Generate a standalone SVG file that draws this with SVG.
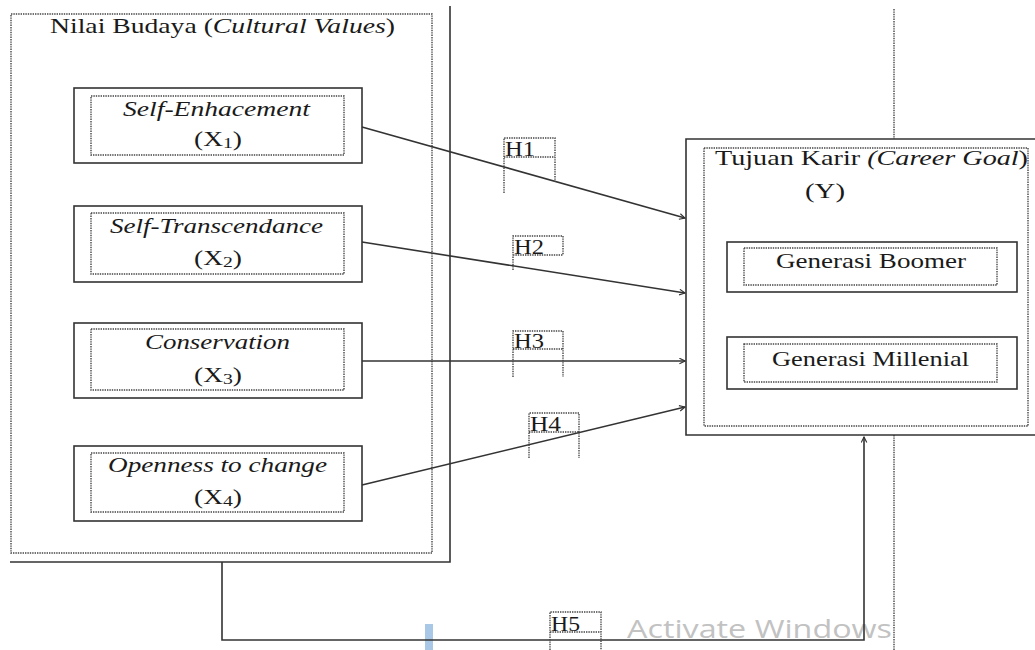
<svg xmlns="http://www.w3.org/2000/svg" width="1035" height="650" viewBox="0 0 1035 650">
<style>
.solid{fill:none;stroke:#333;stroke-width:1.6}
.box{fill:#fff;stroke:#333;stroke-width:1.6}
.dot{fill:none;stroke:#444;stroke-width:1.4;stroke-dasharray:1.4 1}
.t{font-family:"Liberation Serif","Times New Roman",serif;font-size:21px;fill:#1a1a1a}
.i{font-style:italic}
.h{font-family:"Liberation Serif","Times New Roman",serif;font-size:20px;fill:#1a1a1a}
.con{fill:none;stroke:#333;stroke-width:1.6}
.wm{font-family:"Open Sans","Liberation Sans",sans-serif;font-size:25px;fill:#c2c2c2}
</style>
<defs>
<marker id="arr" viewBox="0 0 10 10" refX="9" refY="5" markerWidth="7" markerHeight="7" orient="auto" markerUnits="userSpaceOnUse">
<path d="M1,1 L9,5 L1,9" fill="none" stroke="#333" stroke-width="1.6"/>
</marker>
</defs>
<rect width="1035" height="650" fill="#fff"/>

<!-- watermark artifacts -->
<rect x="425" y="624" width="8" height="26" fill="#a9c8e8"/>
<text class="wm" x="627" y="638" textLength="265" lengthAdjust="spacingAndGlyphs">Activate Windows</text>

<!-- Left container -->
<g id="nilai-budaya">
<path class="solid" d="M10,562 H450 V6"/>
<rect class="dot" x="11" y="14" width="421" height="539"/>
<text class="t" x="50" y="33" textLength="345" lengthAdjust="spacingAndGlyphs">Nilai Budaya (<tspan class="i">Cultural Values</tspan>)</text>
</g>

<g id="x1">
<rect class="box" x="74" y="88" width="288" height="75"/>
<rect class="dot" x="91" y="96" width="253" height="59"/>
<text class="t i" x="123" y="116" textLength="187" lengthAdjust="spacingAndGlyphs">Self-Enhacement</text>
<text class="t" x="194" y="146" textLength="48" lengthAdjust="spacingAndGlyphs">(X<tspan font-size="15" dy="2">1</tspan><tspan dy="-2">)</tspan></text>
</g>

<g id="x2">
<rect class="box" x="74" y="206" width="288" height="76"/>
<rect class="dot" x="91" y="213" width="253" height="61"/>
<text class="t i" x="110" y="233" textLength="213" lengthAdjust="spacingAndGlyphs">Self-Transcendance</text>
<text class="t" x="194" y="265" textLength="48" lengthAdjust="spacingAndGlyphs">(X<tspan font-size="15" dy="2">2</tspan><tspan dy="-2">)</tspan></text>
</g>

<g id="x3">
<rect class="box" x="74" y="323" width="288" height="75"/>
<rect class="dot" x="91" y="329" width="253" height="61"/>
<text class="t i" x="145" y="349" textLength="145" lengthAdjust="spacingAndGlyphs">Conservation</text>
<text class="t" x="194" y="382" textLength="48" lengthAdjust="spacingAndGlyphs">(X<tspan font-size="15" dy="2">3</tspan><tspan dy="-2">)</tspan></text>
</g>

<g id="x4">
<rect class="box" x="74" y="446" width="288" height="75"/>
<rect class="dot" x="91" y="453" width="253" height="59"/>
<text class="t i" x="108" y="472" textLength="219" lengthAdjust="spacingAndGlyphs">Openness to change</text>
<text class="t" x="194" y="504" textLength="48" lengthAdjust="spacingAndGlyphs">(X<tspan font-size="15" dy="2">4</tspan><tspan dy="-2">)</tspan></text>
</g>

<!-- Right container -->
<g id="tujuan-karir">
<line class="dot" x1="894" y1="9" x2="894" y2="139"/>
<line class="dot" x1="894" y1="435" x2="894" y2="650"/>
<path class="box" d="M1040,139 H686 V435 H1040"/>
<rect class="dot" x="704" y="148" width="324" height="278"/>
<text class="t" x="715" y="165" textLength="313" lengthAdjust="spacingAndGlyphs">Tujuan Karir <tspan class="i">(Career Goal</tspan>)</text>
<text class="t" x="805" y="198" textLength="40" lengthAdjust="spacingAndGlyphs">(Y)</text>
</g>

<g id="boomer">
<rect class="box" x="727" y="242" width="290" height="50"/>
<rect class="dot" x="744" y="248" width="253" height="37"/>
<text class="t" x="776" y="268" textLength="190" lengthAdjust="spacingAndGlyphs">Generasi Boomer</text>
</g>

<g id="millenial">
<rect class="box" x="727" y="337" width="290" height="52"/>
<rect class="dot" x="744" y="344" width="253" height="38"/>
<text class="t" x="772" y="366" textLength="197" lengthAdjust="spacingAndGlyphs">Generasi Millenial</text>
</g>

<!-- connectors -->
<g id="connectors">
<line class="con" x1="362" y1="127" x2="685" y2="218" marker-end="url(#arr)"/>
<line class="con" x1="362" y1="242" x2="685" y2="293" marker-end="url(#arr)"/>
<line class="con" x1="362" y1="361" x2="685" y2="361" marker-end="url(#arr)"/>
<line class="con" x1="362" y1="485" x2="685" y2="407" marker-end="url(#arr)"/>
<path class="con" d="M222,562 V640 H864 V437" marker-end="url(#arr)"/>
</g>

<!-- hypothesis labels -->
<g id="h1">
<path class="dot" d="M504,193 V138 H555 V182 M504,157 H555"/>
<text class="h" x="505" y="156" textLength="30" lengthAdjust="spacingAndGlyphs">H1</text>
</g>
<g id="h2">
<path class="dot" d="M513,270 V236 H563 V255 M513,255 H563"/>
<text class="h" x="514" y="254" textLength="30" lengthAdjust="spacingAndGlyphs">H2</text>
</g>
<g id="h3">
<path class="dot" d="M513,377 V331 H563 V377 M513,349 H563"/>
<text class="h" x="514" y="348" textLength="30" lengthAdjust="spacingAndGlyphs">H3</text>
</g>
<g id="h4">
<path class="dot" d="M529,458 V413 H579 V458 M529,432 H579"/>
<text class="h" x="530" y="431" textLength="31" lengthAdjust="spacingAndGlyphs">H4</text>
</g>
<g id="h5">
<path class="dot" d="M550,650 V612 H601 V650 M550,632 H601"/>
<text class="h" x="551" y="631" textLength="29" lengthAdjust="spacingAndGlyphs">H5</text>
</g>
</svg>
